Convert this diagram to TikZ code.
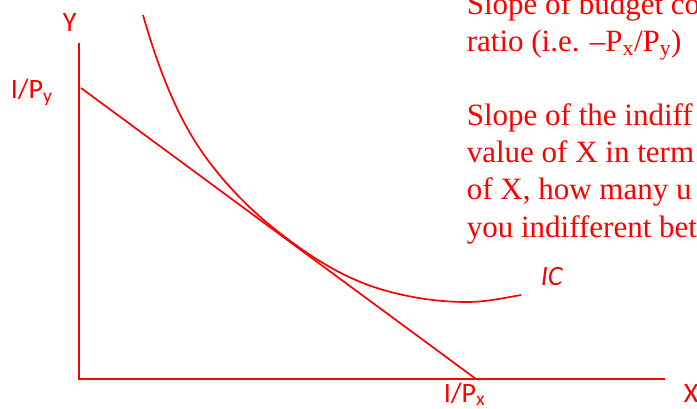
\documentclass[tikz,border=0pt]{standalone}
\usepackage{fontspec}
\setmainfont{Liberation Serif}
\newfontfamily\axisfont{Carlito}
\usetikzlibrary{positioning}

\begin{document}
\begin{tikzpicture}[x=1pt, y=-1pt, line width=1.7pt, draw=red,
			every node/.style={inner sep=0pt, text=red, anchor=base west},
			lab/.style={font=\axisfont\fontsize{28}{34}\selectfont},
			note/.style={font=\fontsize{31}{37}\selectfont}]
			\useasboundingbox (0,0) rectangle (697,409);
			\clip (0,0) rectangle (697,409);
			% axes and budget line
			\coordinate (o) at (79,379);
			\coordinate (ytop) at (79,43);
			\coordinate (xend) at (665,379);
			\coordinate (by) at (81,88);
			\coordinate (bx) at (476,379);
			\draw[line width=2pt] (ytop) -- (o) -- (xend);
			\draw (by) -- (bx);
			% indifference curve
			\coordinate (ic0) at (143,15);
			\coordinate (ic1) at (210,163);
			\coordinate (tan) at (293,243);
			\coordinate (ic3) at (380,289);
			\coordinate (ic4) at (467,302);
			\coordinate (ic5) at (521,295);
			\draw (ic0) .. controls (165.3,93) and (187.7,133.8) .. (ic1)
				.. controls (237.7,199.3) and (265.3,222.7) .. (tan)
				.. controls (322,264.3) and (351,280.3) .. (ic3)
				.. controls (409,297.7) and (438,302) .. (ic4)
				.. controls (485,302) and (503,298.2) .. (ic5);
			\node[lab] (ylab) at (62,32) {Y};
			\node[lab] (xlab) at (683,402) {X};
			\node[lab] (iy) at (10,99) {I/P\textsubscript{y}};
			\node[lab] (ix) at (443,402) {I/P\textsubscript{x}};
			\node[lab, font=\axisfont\itshape\fontsize{28}{34}\selectfont] (ic) at (540,285) {IC};
			% text on the right
			\node[note] (t1) at (466,15) {Slope of budget co};
			\node[note] (t2) at (466,52) {ratio (i.e. --P\textsubscript{x}/P\textsubscript{y})};
			\node[note] (t3) at (466,126) {Slope of the indiff};
			\node[note] (t4) at (466,163) {value of X in term};
			\node[note] (t5) at (466,200) {of X, how many u};
			\node[note] (t6) at (466,237) {you indifferent bet};
		\end{tikzpicture}
\end{document}
